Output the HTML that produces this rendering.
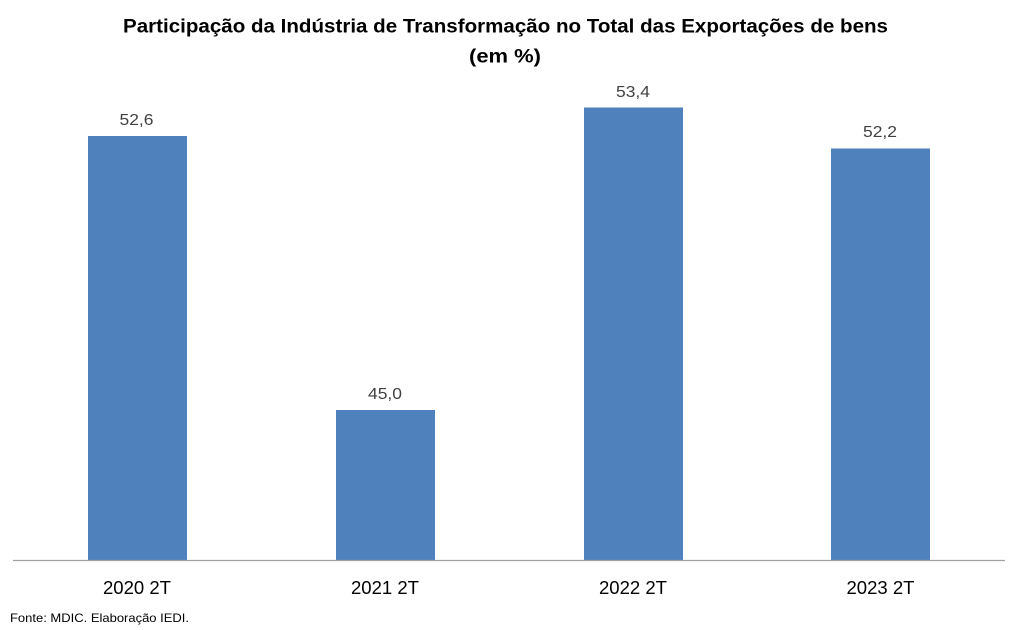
<!DOCTYPE html>
<html>
<head>
<meta charset="utf-8">
<style>
  html, body { margin: 0; padding: 0; background: #ffffff; }
  body { width: 1012px; height: 630px; overflow: hidden; }
  svg { display: block; }
  text { font-family: "Liberation Sans", "DejaVu Sans", sans-serif; }
</style>
</head>
<body>
<svg width="1012" height="630" viewBox="0 0 1012 630" xmlns="http://www.w3.org/2000/svg">
  <rect x="0" y="0" width="1012" height="630" fill="#ffffff"/>

  <!-- Title -->
  <text x="505.5" y="32.5" text-anchor="middle" font-size="19.5" font-weight="bold" fill="#000000" textLength="765" lengthAdjust="spacingAndGlyphs">Participação da Indústria de Transformação no Total das Exportações de bens</text>
  <text x="505" y="62.5" text-anchor="middle" font-size="19.5" font-weight="bold" fill="#000000" textLength="72" lengthAdjust="spacingAndGlyphs">(em %)</text>

  <!-- Bars -->
  <rect x="88" y="136" width="99" height="424" fill="#4f81bd"/>
  <rect x="336" y="410" width="99" height="150" fill="#4f81bd"/>
  <rect x="584" y="107.5" width="99" height="452.5" fill="#4f81bd"/>
  <rect x="831" y="148.5" width="99" height="411.5" fill="#4f81bd"/>

  <!-- Axis line -->
  <line x1="13" y1="560.5" x2="1005" y2="560.5" stroke="#a0a0a0" stroke-width="1.2"/>

  <!-- Data labels -->
  <g font-size="16" fill="#404040" text-anchor="middle">
    <text x="136.5" y="125" textLength="34" lengthAdjust="spacingAndGlyphs">52,6</text>
    <text x="385" y="399" textLength="34" lengthAdjust="spacingAndGlyphs">45,0</text>
    <text x="633" y="97" textLength="34" lengthAdjust="spacingAndGlyphs">53,4</text>
    <text x="880" y="137" textLength="34" lengthAdjust="spacingAndGlyphs">52,2</text>
  </g>

  <!-- Category labels -->
  <g font-size="18" fill="#000000" text-anchor="middle">
    <text x="137" y="594" textLength="68" lengthAdjust="spacingAndGlyphs">2020 2T</text>
    <text x="385" y="594" textLength="68" lengthAdjust="spacingAndGlyphs">2021 2T</text>
    <text x="633" y="594" textLength="68" lengthAdjust="spacingAndGlyphs">2022 2T</text>
    <text x="880.5" y="594" textLength="68" lengthAdjust="spacingAndGlyphs">2023 2T</text>
  </g>

  <!-- Source note -->
  <text x="10" y="622" font-size="12" fill="#000000" textLength="179" lengthAdjust="spacingAndGlyphs">Fonte: MDIC. Elaboração IEDI.</text>
</svg>
</body>
</html>
